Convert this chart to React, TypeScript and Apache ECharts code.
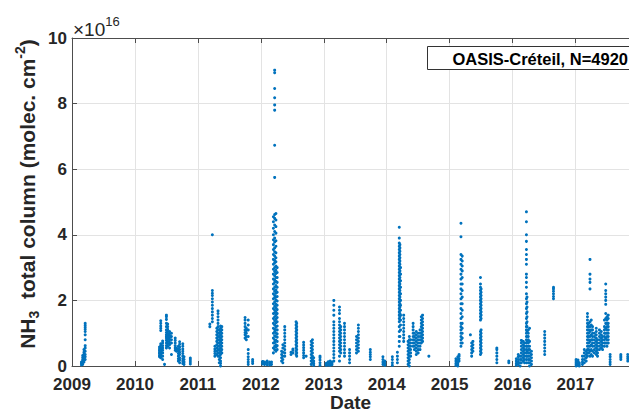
import React, { useEffect, useRef } from "react";
import * as echarts from "echarts";

// Each entry: [decimal year, [NH3 total columns in units of 1e16 molec. cm^-2]]
type Streak = [number, number[]];

const xTickYears = [2009, 2010, 2011, 2012, 2013, 2014, 2015, 2016, 2017];
const yTicks = [0, 2, 4, 6, 8, 10];

const streaks2009: Streak[] = [
  [2009.15, [0.03, 0.08, 0.12]],
  [2009.17, [0.05, 0.1, 0.15, 0.2, 0.26, 0.32]],
  [2009.19, [0.12, 0.18, 0.22, 0.3, 0.36, 0.42, 0.5]],
  [2009.21, [0.2, 0.28, 0.35, 0.45, 0.55, 0.62, 0.8, 0.95, 1.05, 1.12, 1.18, 1.24, 1.3]],
];

const streaks2010: Streak[] = [
  [2010.39, [0.28, 0.33, 0.38, 0.42, 0.47, 0.52, 0.58]],
  [2010.41, [0.25, 0.3, 0.36, 0.4, 0.45, 0.5, 0.55, 0.62, 0.68, 1.08, 1.15, 1.22, 1.3, 1.38]],
  [2010.44, [0.2, 0.3, 0.4, 0.48, 0.55, 0.62, 0.7, 0.76]],
  [2010.47, [0.05]],
  [2010.5, [0.55, 0.62, 0.7, 0.78, 0.85, 0.9, 0.95, 1.02, 1.1, 1.2, 1.3, 1.42, 1.5, 1.55]],
  [2010.52, [0.6, 0.68, 0.75, 0.82, 0.88, 0.94, 1.0, 1.06, 1.12, 1.2, 1.28]],
  [2010.55, [0.55, 0.65, 0.72, 0.8, 0.86, 0.92, 0.98, 1.05]],
  [2010.58, [0.35, 0.7, 0.8, 0.9, 1.0]],
  [2010.64, [0.48, 0.55, 0.62, 0.7, 0.78, 0.85]],
  [2010.66, [0.45, 0.5, 0.55]],
  [2010.69, [0.15, 0.22, 0.3, 0.38, 0.45, 0.52, 0.6]],
  [2010.71, [0.1, 0.18, 0.25, 0.35, 0.42, 0.5, 0.58, 0.66, 0.74]],
  [2010.76, [0.08, 0.15, 0.22, 0.3, 0.38, 0.45, 0.52, 0.6, 0.68]],
  [2010.78, [0.05, 0.12, 0.2, 0.28]],
  [2010.88, [0.06, 0.12, 0.18, 0.24]],
];

const streaks2011: Streak[] = [
  [2011.19, [1.2, 1.28]],
  [2011.23, [1.35, 1.45, 1.55, 1.65, 1.75, 1.85, 1.95, 2.05, 2.15, 2.22, 2.3, 4.0]],
  [2011.27, [0.3, 0.38, 0.45, 0.52, 0.6]],
  [2011.3, [0.35, 0.45, 0.55, 0.65, 0.75, 0.85, 0.95, 1.05, 1.15]],
  [2011.32, [0.3, 0.4, 0.5, 0.6, 0.7, 0.8, 0.9, 1.0, 1.1, 1.2, 1.3, 1.4, 1.5, 1.6, 1.68]],
  [2011.34, [0.1, 0.2, 0.3, 0.4, 0.5, 0.6, 0.7, 0.8, 0.9, 1.0, 1.1]],
  [2011.36, [0.0, 0.08, 0.15, 0.25, 0.35, 0.45, 0.55, 0.65, 0.75, 0.85, 0.95, 1.05, 1.15, 1.22]],
  [2011.38, [0.4, 0.5, 0.6, 0.7, 0.8, 0.9, 1.0, 1.1, 1.2]],
  [2011.75, [0.85, 0.95, 1.02, 1.1, 1.2, 1.3, 1.4, 1.48]],
  [2011.77, [0.8, 0.9, 1.0, 1.08, 1.15]],
  [2011.8, [0.05, 0.12, 0.2, 0.28, 0.38, 0.5, 0.9, 1.1, 1.25, 1.4]],
  [2011.87, [0.08, 0.14, 0.2]],
];

const streaks2012: Streak[] = [
  [2012.03, [0.06, 0.1, 0.14]],
  [2012.06, [0.05, 0.09, 0.12]],
  [2012.1, [0.04, 0.1, 0.15]],
  [2012.14, [0.03, 0.08, 0.12]],
  [2012.17, [0.05, 0.12]],
  [2012.2, [0.4, 0.55, 0.7, 0.85, 1.0, 1.15, 1.3, 1.45, 1.6, 1.75, 1.9, 2.05, 2.2, 2.35, 2.5, 2.65, 2.8, 2.95, 3.1, 3.25, 3.4, 3.55, 3.7, 3.85, 4.0, 4.2, 4.4, 4.55]],
  [2012.22, [0.5, 0.6, 0.72, 0.8, 0.92, 1.05, 1.12, 1.25, 1.38, 1.5, 1.62, 1.7, 1.82, 1.95, 2.08, 2.15, 2.28, 2.4, 2.55, 2.62, 2.75, 2.88, 3.0, 3.15, 3.22, 3.35, 3.48, 3.6, 3.78, 3.9, 4.1, 4.3, 4.5, 4.62, 5.75, 6.73, 7.8, 7.96, 8.18, 8.46, 8.94, 9.02]],
  [2012.24, [0.45, 0.58, 0.65, 0.78, 0.9, 1.0, 1.1, 1.2, 1.32, 1.42, 1.55, 1.65, 1.78, 1.88, 2.0, 2.1, 2.22, 2.32, 2.45, 2.58, 2.7, 2.82, 2.92, 3.05, 3.18, 3.3, 3.45, 3.65, 3.82, 4.05, 4.25, 4.45, 4.65]],
  [2012.26, [0.5, 0.62, 0.75, 0.88, 0.98, 1.1, 1.22, 1.35, 1.48, 1.6, 1.72, 1.85, 1.98, 2.12, 2.25, 2.4, 2.55, 2.7, 2.85, 3.0]],
  [2012.33, [0.15, 0.25, 0.35, 0.45]],
  [2012.35, [0.1, 0.2, 0.3, 0.42, 0.55, 0.65]],
  [2012.38, [0.3, 0.4, 0.5, 0.6, 0.7, 0.8, 0.9, 1.0, 1.1, 1.2]],
  [2012.48, [0.35, 0.42]],
  [2012.51, [0.4, 0.48, 0.52]],
  [2012.56, [0.35, 0.45, 0.55, 0.65, 0.75, 0.85, 0.95, 1.05, 1.15, 1.25, 1.35]],
  [2012.57, [0.3, 0.4, 0.5, 0.6, 0.7, 0.8, 0.9, 1.0, 1.1, 1.2, 1.3]],
  [2012.68, [0.25, 0.32, 0.4, 0.48, 0.56, 0.64, 0.72]],
  [2012.72, [0.3]],
  [2012.8, [0.05, 0.15, 0.25, 0.35, 0.45, 0.55, 0.65, 0.75]],
  [2012.82, [0.1, 0.2, 0.3, 0.4, 0.5, 0.6, 0.7, 0.8]],
  [2012.84, [0.02, 0.08, 0.15, 0.25]],
  [2012.94, [0.02, 0.1, 0.18, 0.25, 0.3]],
];

const streaks2013: Streak[] = [
  [2013.04, [0.02, 0.05, 0.08]],
  [2013.07, [0.03, 0.06, 0.1, 0.13]],
  [2013.1, [0.02, 0.05, 0.09, 0.12, 0.15]],
  [2013.13, [0.04, 0.08, 0.12]],
  [2013.16, [0.15, 0.25, 0.35, 0.45, 0.55, 0.65, 0.75, 0.85, 0.95, 1.05, 1.15, 1.25, 1.35, 1.55, 1.7, 1.85, 2.0]],
  [2013.25, [0.15, 0.3, 0.45, 0.55, 0.65, 0.75, 0.85, 0.95, 1.05, 1.15, 1.25, 1.35, 1.45, 1.6, 1.7, 1.8]],
  [2013.27, [0.4, 0.5, 0.6, 0.7, 0.8, 0.9, 1.0, 1.1, 1.2]],
  [2013.33, [0.3, 0.4, 0.5, 0.6, 0.7, 0.8, 0.9, 1.0, 1.1, 1.2, 1.3]],
  [2013.41, [0.1, 0.2, 0.3, 0.4, 0.5]],
  [2013.52, [0.4, 0.5, 0.6, 0.7, 0.8, 0.9]],
  [2013.55, [0.45, 0.55, 0.65, 0.75, 0.85, 0.95, 1.05, 1.15, 1.25]],
  [2013.74, [0.2, 0.28, 0.35, 0.42, 0.5]],
  [2013.94, [0.05, 0.12, 0.2, 0.28]],
  [2013.97, [0.02, 0.08, 0.15]],
];

const streaks2014: Streak[] = [
  [2014.09, [0.02, 0.1, 0.2, 0.28]],
  [2014.17, [0.1, 0.2, 0.3, 0.42]],
  [2014.2, [0.6, 0.75, 0.9, 1.05, 1.2, 1.35, 1.45, 1.55, 1.65, 1.75, 1.85, 1.95, 2.05, 2.15, 2.25, 2.35, 2.45, 2.55, 2.65, 2.75, 2.85, 2.95, 3.05, 3.15, 3.25, 3.35, 3.45, 3.55, 3.65, 3.75, 3.9, 4.23]],
  [2014.21, [0.9, 1.4, 1.5, 1.6, 1.7, 1.8, 1.9, 2.0, 2.1, 2.2, 2.3, 2.4, 2.5, 2.6, 2.7, 2.8, 2.9, 3.0, 3.1, 3.2, 3.3, 3.4, 3.5, 3.6, 3.7]],
  [2014.22, [1.1, 1.25, 1.4, 1.55, 1.7, 1.85, 2.0, 2.2, 2.4, 2.6, 2.8, 3.0]],
  [2014.27, [0.75, 0.85, 0.95, 1.05, 1.15, 1.25, 1.35, 1.45, 1.55]],
  [2014.34, [0.05, 0.15, 0.25, 0.35, 0.45, 0.55, 0.65, 0.75]],
  [2014.36, [0.0, 0.1, 0.2, 0.3, 0.4, 0.5, 0.6, 0.7, 0.8, 0.9]],
  [2014.38, [0.3, 0.4, 0.5, 0.6, 0.7, 0.8]],
  [2014.42, [0.6, 0.7, 0.8, 0.9, 1.0, 1.1, 1.2, 1.3]],
  [2014.44, [0.5, 0.6, 0.7, 0.8, 0.9, 1.0]],
  [2014.47, [0.35, 0.45, 0.55, 0.65, 0.75, 0.85, 0.95, 1.05]],
  [2014.5, [0.4, 0.5, 0.6, 0.7, 0.8, 0.9, 1.0]],
  [2014.53, [0.5, 0.6, 0.7, 0.8, 0.9, 1.0, 1.1]],
  [2014.55, [0.7, 0.8, 0.9, 1.0, 1.1, 1.2, 1.3, 1.4, 1.5]],
  [2014.57, [0.75, 0.85, 0.95, 1.05, 1.15, 1.25, 1.35, 1.45, 1.55]],
  [2014.67, [0.3]],
];

const streaks2015: Streak[] = [
  [2015.1, [0.02, 0.08, 0.15, 0.22]],
  [2015.13, [0.0, 0.06, 0.12, 0.2, 0.28]],
  [2015.15, [0.15, 0.22, 0.3, 0.35]],
  [2015.18, [0.6, 0.7, 0.8, 0.9, 1.0, 1.1, 1.2, 1.3, 1.45, 1.6, 1.75, 1.9, 2.05, 2.2, 2.35, 2.5, 2.65, 2.8, 2.95, 3.1, 3.25, 3.4, 3.94, 4.35]],
  [2015.2, [0.7, 0.85, 1.0, 1.15, 1.3, 1.5, 1.7, 1.9, 2.1, 2.3, 2.5, 2.7, 2.9, 3.05, 3.2, 3.35]],
  [2015.33, [0.95]],
  [2015.35, [0.3, 0.4, 0.5, 0.6, 0.7]],
  [2015.37, [0.45, 0.55, 0.65, 0.75]],
  [2015.49, [0.35, 0.45, 0.55, 0.65, 0.75, 0.85, 0.95, 1.05, 1.4, 1.5, 1.6, 1.7, 1.8, 1.9, 2.0, 2.1, 2.2, 2.3, 2.4, 2.5, 2.7]],
  [2015.5, [0.4, 0.5, 0.6, 0.7, 0.8, 0.9, 1.0, 1.1, 1.45, 1.55, 1.65, 1.75, 1.85, 1.95, 2.05, 2.15, 2.25, 2.35]],
  [2015.75, [0.1, 0.2, 0.3, 0.4, 0.5, 0.55]],
  [2015.94, [0.1, 0.15]],
];

const streaks2016: Streak[] = [
  [2016.06, [0.02, 0.08, 0.15, 0.22]],
  [2016.09, [0.05, 0.12, 0.2, 0.28, 0.35]],
  [2016.12, [0.0, 0.1, 0.2, 0.3]],
  [2016.14, [0.1, 0.2, 0.3, 0.4, 0.5, 0.6, 0.7, 0.78]],
  [2016.17, [0.15, 0.25, 0.35, 0.45, 0.55, 0.65, 0.75]],
  [2016.19, [0.1, 0.2, 0.3, 0.4, 0.5, 0.6, 0.7]],
  [2016.22, [0.1, 0.2, 0.3, 0.4, 0.5, 0.6, 0.7, 0.8, 0.9, 1.0, 1.1, 1.2, 1.3, 1.45, 1.6, 1.75, 1.9, 2.05, 2.2, 2.4, 2.55, 2.7, 2.8, 3.1, 3.25, 3.4, 3.55, 3.8, 4.0, 4.4, 4.7]],
  [2016.23, [0.3, 0.45, 0.6, 0.75, 0.9, 1.05, 1.2, 1.35, 1.5, 1.65, 1.8, 1.95, 2.1]],
  [2016.25, [0.1, 0.2, 0.3, 0.4, 0.5, 0.6, 0.7, 0.8, 0.9, 1.0, 1.1]],
  [2016.27, [0.0, 0.1, 0.2, 0.3, 0.4, 0.5, 0.6, 0.75, 1.15]],
  [2016.3, [0.05, 0.15, 0.25, 0.35, 0.45]],
  [2016.51, [0.35, 0.45, 0.55, 0.65, 0.75, 0.85, 0.95, 1.05]],
  [2016.65, [2.05, 2.12, 2.2, 2.28, 2.35, 2.4]],
];

const streaks2017: Streak[] = [
  [2017.01, [0.0, 0.05, 0.1, 0.15, 0.2]],
  [2017.04, [0.02, 0.06, 0.12, 0.18]],
  [2017.06, [0.0, 0.05, 0.1]],
  [2017.11, [0.05, 0.12, 0.2, 0.3]],
  [2017.14, [0.1, 0.2, 0.3, 0.4, 0.5]],
  [2017.17, [0.15, 0.25, 0.35, 0.45]],
  [2017.19, [0.3, 0.4, 0.5, 0.6, 0.7, 0.8, 0.9, 1.0, 1.1, 1.2, 1.3, 1.4, 1.5, 1.6]],
  [2017.21, [0.4, 0.5, 0.6, 0.7, 0.8, 0.9, 1.0, 1.1, 1.2, 1.3]],
  [2017.23, [0.3, 0.45, 0.6, 0.75, 0.9, 1.05, 1.2, 1.35, 2.35, 2.55, 2.65, 2.8, 3.25]],
  [2017.25, [0.35, 0.5, 0.65, 0.8, 0.95, 1.1, 1.25, 1.4]],
  [2017.27, [0.3, 0.45, 0.6, 0.7, 0.8, 0.9, 1.0, 1.1, 1.2]],
  [2017.3, [0.4, 0.5, 0.6, 0.7, 0.8, 0.9, 1.0]],
  [2017.33, [0.35, 0.45, 0.55, 0.65, 0.75, 0.85, 0.95, 1.05, 1.15]],
  [2017.35, [0.3, 0.4, 0.5, 0.6, 0.7, 0.8]],
  [2017.38, [0.5, 0.6, 0.7, 0.8, 0.9, 1.0, 1.1]],
  [2017.41, [0.55, 0.65, 0.75, 0.85, 0.95, 1.05]],
  [2017.43, [0.5, 0.6, 0.7, 0.8, 0.9]],
  [2017.46, [0.6, 0.7, 0.8, 0.9, 1.0, 1.1, 1.2, 1.4]],
  [2017.48, [0.7, 0.85, 1.0, 1.15, 1.3, 1.45, 1.6, 1.88, 2.0, 2.1, 2.2, 2.3, 2.5]],
  [2017.5, [0.6, 0.7, 0.8, 0.9, 1.0, 1.1, 1.2, 1.3, 1.4, 1.5]],
  [2017.52, [0.7, 0.8, 0.9, 1.0, 1.1, 1.2, 1.3, 1.45, 1.55]],
  [2017.55, [0.05, 0.12, 0.2, 0.28, 0.35]],
  [2017.72, [0.2, 0.25, 0.3, 0.35]],
  [2017.83, [0.15, 0.22, 0.28, 0.35]],
];

const allStreaks: Streak[] = [
  ...streaks2009, ...streaks2010, ...streaks2011, ...streaks2012, ...streaks2013,
  ...streaks2014, ...streaks2015, ...streaks2016, ...streaks2017,
];

const annotationText = "OASIS-Créteil, N=4920";
const xTitle = "Date";
const FONT = "'Liberation Sans', Arial, Helvetica, sans-serif";
const TXT = "#262626";

export default function App() {
  const ref = useRef<HTMLDivElement>(null);
  useEffect(() => {
    if (!ref.current) return;
    const chart = echarts.init(ref.current, undefined, { renderer: "svg", width: 629, height: 416 });
    const points: number[][] = [];
    allStreaks.forEach(([t, vals]) => vals.forEach((v) => points.push([t, v])));
    const xMin = xTickYears[0];
    const xMax = 2017.85;
    chart.setOption({
      animation: false,
      backgroundColor: "#ffffff",
      grid: {
        left: 72, top: 38, width: 557, height: 328,
        containLabel: false,
        outerBoundsMode: "none",
      },
      xAxis: [
        {
          type: "value",
          min: xMin,
          max: xMax,
          interval: 1,
          axisLine: { show: true, lineStyle: { color: "#4d4d4d", width: 1 } },
          axisTick: { show: true, inside: true, length: 5, lineStyle: { color: "#4d4d4d" } },
          axisLabel: {
            fontFamily: FONT, fontWeight: "bold", fontSize: 17, color: TXT, margin: 10,
            showMaxLabel: false,
            formatter: (v: number) => (xTickYears.includes(v) ? String(v) : ""),
          },
          splitLine: { show: true, lineStyle: { color: "#e3e3e3", width: 1 } },
        },
        {
          type: "value",
          position: "top",
          min: xMin,
          max: xMax,
          interval: 1,
          axisLine: { show: true, lineStyle: { color: "#4d4d4d", width: 1 } },
          axisTick: { show: true, inside: true, length: 5, lineStyle: { color: "#4d4d4d" } },
          axisLabel: { show: false },
          splitLine: { show: false },
        },
      ],
      yAxis: {
        type: "value",
        min: yTicks[0],
        max: yTicks[yTicks.length - 1],
        interval: 2,
        axisLine: { show: true, lineStyle: { color: "#4d4d4d", width: 1 } },
        axisTick: { show: true, inside: true, length: 5, lineStyle: { color: "#4d4d4d" } },
        axisLabel: { fontFamily: FONT, fontWeight: "bold", fontSize: 17, color: TXT, margin: 5 },
        splitLine: { show: true, lineStyle: { color: "#e3e3e3", width: 1 } },
      },
      series: [
        {
          type: "scatter",
          xAxisIndex: 0,
          data: points,
          symbol: "circle",
          symbolSize: 3,
          itemStyle: { color: "#0072BD", opacity: 1 },
          silent: true,
        },
      ],
      graphic: [
        {
          type: "text",
          x: 350.5,
          y: 402,
          style: {
            text: xTitle,
            align: "center",
            verticalAlign: "middle",
            fontFamily: FONT,
            fontWeight: "bold",
            fontSize: 19,
            fill: TXT,
          },
        },
        {
          type: "text",
          x: 27,
          y: 194,
          rotation: Math.PI / 2,
          style: {
            text: "{a|NH}{sub|3}{a|  total column (molec. cm}{sup|-2}{a|)}",
            align: "center",
            verticalAlign: "middle",
            fill: TXT,
            rich: {
              a: { fontFamily: FONT, fontWeight: "bold", fontSize: 21, fill: TXT, lineHeight: 28, verticalAlign: "middle" },
              sub: { fontFamily: FONT, fontWeight: "bold", fontSize: 14, fill: TXT, lineHeight: 28, verticalAlign: "bottom" },
              sup: { fontFamily: FONT, fontWeight: "bold", fontSize: 14, fill: TXT, lineHeight: 28, verticalAlign: "top" },
            },
          },
        },
        {
          type: "text",
          x: 73,
          y: 27,
          style: {
            text: "{a|×10}{sup|16}",
            align: "left",
            verticalAlign: "middle",
            rich: {
              a: { fontFamily: FONT, fontSize: 19, fill: TXT, lineHeight: 24, verticalAlign: "bottom" },
              sup: { fontFamily: FONT, fontSize: 13, fill: TXT, lineHeight: 24, verticalAlign: "top" },
            },
          },
        },
        {
          type: "rect",
          shape: { x: 427.5, y: 46.5, width: 220, height: 23 },
          style: { fill: "#ffffff", stroke: "#333333", lineWidth: 1 },
          z: 100,
        },
        {
          type: "text",
          x: 628,
          y: 58.5,
          z: 101,
          style: {
            text: annotationText,
            align: "right",
            verticalAlign: "middle",
            fontFamily: FONT,
            fontWeight: "bold",
            fontSize: 16.5,
            fill: "#000000",
          },
        },
      ],
    });
    return () => chart.dispose();
  }, []);
  return (
    <div
      ref={ref}
      style={{ position: "fixed", left: 0, top: 0, width: 629, height: 416 }}
    />
  );
}
